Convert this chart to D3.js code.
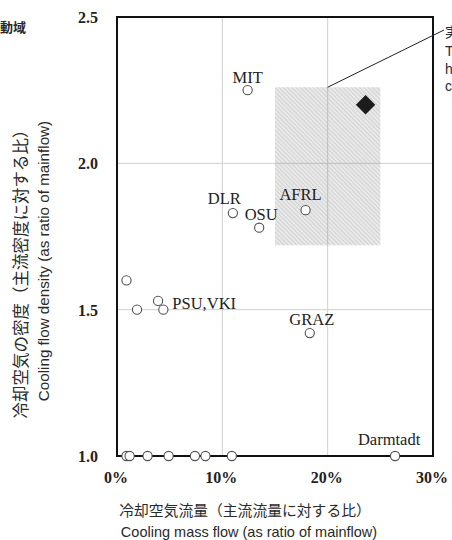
<!DOCTYPE html>
<html>
<head>
  <meta charset="UTF-8">
  <title></title>
  <style>
    body{ margin:0; background:#fff; }
    svg{ display:block; }
    .lbl{ font-family:'Liberation Serif', 'Times New Roman', serif; font-size:16.5px; fill:#222; }
    .tick{ font-family:'Liberation Serif', 'Times New Roman', serif; font-size:16px; font-weight:bold; fill:#222; }
    .jp{ font-family:'Noto Sans CJK JP', sans-serif; fill:#2a2a2a; }
    .en{ font-family:'Liberation Sans', Arial, sans-serif; fill:#2a2a2a; }
  </style>
</head>
<body>
  <script src="https://d3js.org/d3.v7.min.js"></script>
  <script>
    // data
    var massFlow = [12.4, 11.0, 13.5, 17.9, 0.9, 1.9, 3.9, 4.4, 18.3, 0.9, 1.2, 2.9, 4.9, 7.4, 8.4, 10.9, 26.4];
    var density  = [2.25, 1.83, 1.78, 1.84, 1.60, 1.50, 1.53, 1.50, 1.42, 1.0, 1.0, 1.0, 1.0, 1.0, 1.0, 1.0, 1.0];
    var names    = ["MIT", "DLR", "OSU", "AFRL", "", "", "", "PSU,VKI", "GRAZ", "", "", "", "", "", "", "", "Darmtadt"];
    var target   = [23.6, 2.2];
    var targetRange = [[15, 25], [1.72, 2.26]];
    var xTicks = [0, 10, 20, 30];
    var yTicks = [1.0, 1.5, 2.0, 2.5];

    // label placement relative to its point
    var labelPos = {
      "MIT": [0, -7, "middle"], "DLR": [8, -9, "end"], "OSU": [2, -8, "middle"],
      "AFRL": [-5, -10, "middle"], "PSU,VKI": [9, -1, "start"], "GRAZ": [2, -8, "middle"],
      "Darmtadt": [-6, -11, "middle"]
    };

    var width = 452, height = 540;
    var svg = d3.select("body").append("svg").attr("width", width).attr("height", height);

    var x = d3.scaleLinear().domain([0, 30]).range([117, 433]);
    var y = d3.scaleLinear().domain([1.0, 2.5]).range([456, 17]);

    var defs = svg.append("defs");
    var pat = defs.append("pattern").attr("id", "hatch")
        .attr("patternUnits", "userSpaceOnUse").attr("width", 3).attr("height", 3)
        .attr("patternTransform", "rotate(-45)");
    pat.append("rect").attr("width", 3).attr("height", 3).attr("fill", "#e9e9e9");
    pat.append("line").attr("x1", 0).attr("y1", 0).attr("x2", 0).attr("y2", 3)
        .attr("stroke", "#c2c2c2").attr("stroke-width", 1.2);

    // grid
    svg.append("g").selectAll("line.gx").data(xTicks.slice(1, -1)).enter().append("line")
      .attr("x1", function(d) { return x(d); }).attr("x2", function(d) { return x(d); })
      .attr("y1", y(2.5)).attr("y2", y(1.0))
      .attr("stroke", "#cfcfcf").attr("stroke-width", 1);
    svg.append("g").selectAll("line.gy").data(yTicks.slice(1, -1)).enter().append("line")
      .attr("y1", function(d) { return y(d); }).attr("y2", function(d) { return y(d); })
      .attr("x1", x(0)).attr("x2", x(30))
      .attr("stroke", "#cfcfcf").attr("stroke-width", 1);

    // target range box
    svg.append("rect")
      .attr("x", x(targetRange[0][0])).attr("width", x(targetRange[0][1]) - x(targetRange[0][0]))
      .attr("y", y(targetRange[1][1])).attr("height", y(targetRange[1][0]) - y(targetRange[1][1]))
      .attr("fill", "url(#hatch)");

    // grid lines show through box
    svg.append("line").attr("x1", x(20)).attr("x2", x(20))
      .attr("y1", y(targetRange[1][1])).attr("y2", y(targetRange[1][0]))
      .attr("stroke", "#bdbdbd").attr("stroke-width", 1);
    svg.append("line").attr("y1", y(2.0)).attr("y2", y(2.0))
      .attr("x1", x(targetRange[0][0])).attr("x2", x(targetRange[0][1]))
      .attr("stroke", "#bdbdbd").attr("stroke-width", 1);

    // frame
    svg.append("rect").attr("x", x(0)).attr("y", y(2.5))
      .attr("width", x(30) - x(0)).attr("height", y(1.0) - y(2.5))
      .attr("fill", "none").attr("stroke", "#111").attr("stroke-width", 2);

    // leader line
    svg.append("line")
      .attr("x1", x(20)).attr("y1", y(targetRange[1][1]))
      .attr("x2", 444).attr("y2", 30)
      .attr("stroke", "#222").attr("stroke-width", 1);

    // points
    var pts = massFlow.map(function(d, i) { return {x: d, y: density[i], name: names[i]}; });
    svg.append("g").selectAll("circle").data(pts).enter().append("circle")
      .attr("cx", function(d) { return x(d.x); })
      .attr("cy", function(d) { return y(d.y); })
      .attr("r", 4.6)
      .attr("fill", "#fff").attr("stroke", "#505050").attr("stroke-width", 1.1);

    svg.append("g").selectAll("text").data(pts.filter(function(d) { return d.name; }))
      .enter().append("text")
      .attr("class", "lbl")
      .attr("x", function(d) { return x(d.x) + labelPos[d.name][0]; })
      .attr("y", function(d) { return y(d.y) + labelPos[d.name][1]; })
      .attr("text-anchor", function(d) { return labelPos[d.name][2]; })
      .text(function(d) { return d.name; });

    // target diamond
    svg.append("path")
      .attr("d", d3.symbol().type(d3.symbolDiamond2).size(240)())
      .attr("transform", "translate(" + x(target[0]) + "," + y(target[1]) + ")")
      .attr("fill", "#1c1c1c");

    // tick labels
    svg.append("g").selectAll("text").data(xTicks).enter().append("text")
      .attr("class", "tick")
      .attr("x", function(d) { return x(d) - 1; })
      .attr("y", 483)
      .attr("text-anchor", "middle")
      .text(function(d) { return d + "%"; });
    svg.append("g").selectAll("text").data(yTicks).enter().append("text")
      .attr("class", "tick")
      .attr("x", 98)
      .attr("y", function(d) { return y(d) + 6; })
      .attr("text-anchor", "end")
      .text(function(d) { return d3.format(".1f")(d); });

    // axis titles
    svg.append("text").attr("class", "jp").attr("x", 245).attr("y", 516)
      .attr("text-anchor", "middle").attr("font-size", "14.8px")
      .text("冷却空気流量（主流流量に対する比）");
    svg.append("text").attr("class", "en").attr("x", 249).attr("y", 536.5)
      .attr("text-anchor", "middle").attr("font-size", "14.5px")
      .text("Cooling mass flow (as ratio of mainflow)");

    svg.append("text").attr("class", "jp")
      .attr("transform", "translate(27,270) rotate(-90)")
      .attr("text-anchor", "middle").attr("font-size", "16.5px")
      .text("冷却空気の密度（主流密度に対する比）");
    svg.append("text").attr("class", "en")
      .attr("transform", "translate(49,261) rotate(-90)")
      .attr("text-anchor", "middle").attr("font-size", "15.2px")
      .text("Cooling flow density (as ratio of mainflow)");

    // cut-off notes at the edges
    svg.append("text").attr("class", "jp").attr("x", 26).attr("y", 32)
      .attr("text-anchor", "end").attr("font-size", "13px").attr("font-weight", "bold")
      .text("実機作動域");
    var note = ["実機作動域", "Typical", "high pressure", "conditions"];
    svg.append("g").selectAll("text").data(note).enter().append("text")
      .attr("class", function(d, i) { return i === 0 ? "jp" : "en"; })
      .attr("x", 445)
      .attr("y", function(d, i) { return [37, 56, 74, 91][i]; })
      .attr("font-size", "14px")
      .text(function(d) { return d; });
  </script>
</body>
</html>
